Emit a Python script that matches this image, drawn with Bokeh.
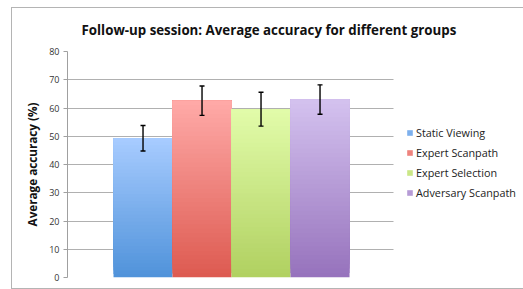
from bokeh.plotting import figure
from bokeh.models import (ColumnDataSource, Whisker, TeeHead, Legend, LegendItem, SingleIntervalTicker,
                          BoxAnnotation, Range1d)
from bokeh.layouts import column
from bokeh.embed import file_html
from bokeh.resources import INLINE

# ---- data ----
groups = ["Static Viewing", "Expert Scanpath", "Expert Selection", "Adversary Scanpath"]
accuracy = [49.3, 62.6, 59.6, 63.0]
err = [4.5, 5.2, 6.0, 5.2]
title_text = "Follow-up session: Average accuracy for different groups"
y_label = "Average accuracy (%)"

# gradient colours (bottom, top) per group
col_bottom = ["#4f92da", "#dd5a50", "#b0d060", "#9672bc"]
col_top = ["#a8ccff", "#ffaaa8", "#e2fcaa", "#d4c2ef"]

def hex2rgb(h):
    h = h.lstrip("#")
    return tuple(int(h[i:i + 2], 16) for i in (0, 2, 4))

def mix(a, b, t):
    ra, rb = hex2rgb(a), hex2rgb(b)
    return "#%02x%02x%02x" % tuple(int(round(ra[k] + (rb[k] - ra[k]) * t)) for k in range(3))

xpos = list(range(len(groups)))  # group index along x

# vertical colour gradient: overlapping slices, each from its own start to the bar's top
N = 40
xs, bots, tops, cols, names = [], [], [], [], []
mid_index = []
for xi, g, v, cb, ct in zip(xpos, groups, accuracy, col_bottom, col_top):
    for i in range(N):
        xs.append(xi)
        names.append(g)
        bots.append(v * i / N)
        tops.append(v)
        cols.append(mix(cb, ct, (i + 0.5) / N))
        if i == N // 2:
            mid_index.append(len(xs) - 1)
seg = ColumnDataSource(dict(x=xs, bottom=bots, top=tops, color=cols, group=names))

FONT = "Open Sans"

# frame spans to the right edge; the area right of the plot region is masked for the legend
X0, X1, XCUT = -1.28, 6.635, 4.245
p = figure(width=522, height=280, x_range=Range1d(X0, X1), y_range=(0, 80),
           output_backend="svg", toolbar_location=None,
           min_border_left=55, min_border_right=0, min_border_top=39, min_border_bottom=11)

r = p.vbar(x="x", bottom="bottom", top="top", width=1.0, fill_color="color",
           line_color=None, source=seg)

mask = BoxAnnotation(left=XCUT, fill_color="white", fill_alpha=1.0, line_color=None)
p.add_layout(mask)

es = ColumnDataSource(dict(x=xpos, upper=[a + e for a, e in zip(accuracy, err)],
                           lower=[a - e for a, e in zip(accuracy, err)]))
w = Whisker(base="x", upper="upper", lower="lower", source=es, line_color="black", line_width=1.4,
            upper_head=TeeHead(size=5, line_color="black", line_width=1.4),
            lower_head=TeeHead(size=5, line_color="black", line_width=1.4), level="overlay")
p.add_layout(w)

# title
p.title.text = title_text
p.title.align = "left"
p.title.offset = 14
p.title.text_font = FONT
p.title.text_font_size = "13.3px"
p.title.text_font_style = "bold"
p.title.text_color = "#111111"
p.title.standoff = 23
p.title.vertical_align = "middle"

# axes
p.xaxis.visible = False

p.yaxis.ticker = SingleIntervalTicker(interval=10)
p.yaxis.axis_line_color = "#a0a0a0"
p.yaxis.major_tick_line_color = "#a0a0a0"
p.yaxis.major_tick_out = 4
p.yaxis.major_tick_in = 0
p.yaxis.minor_tick_line_color = None
p.yaxis.major_label_text_font = FONT
p.yaxis.major_label_text_font_size = "9px"
p.yaxis.major_label_text_color = "#333333"
p.yaxis.major_label_standoff = 4
p.yaxis.axis_label = y_label
p.yaxis.axis_label_text_font = FONT
p.yaxis.axis_label_text_font_size = "11.7px"
p.yaxis.axis_label_text_font_style = "bold"
p.yaxis.axis_label_text_color = "#111111"
p.yaxis.axis_label_standoff = 6

p.xgrid.grid_line_color = None
p.ygrid.grid_line_color = "#b0b0b0"
p.ygrid.grid_line_width = 1
p.outline_line_color = None

items = [LegendItem(label=g, renderers=[r], index=k) for g, k in zip(groups, mid_index)]
legend = Legend(items=items, location=(339, 77), glyph_width=7, glyph_height=7,
                label_text_font=FONT, label_text_font_size="10.8px", label_text_color="#222222",
                label_standoff=3, spacing=5, padding=4, margin=0,
                border_line_color=None, background_fill_alpha=0)
p.add_layout(legend)

layout = column(p, styles={"border-top": "1px solid #b4b4b4", "border-left": "1px solid #b4b4b4",
                           "border-bottom": "1px solid #b4b4b4",
                           "margin-left": "11px", "margin-top": "7px"})

open("out.html", "w").write(file_html(layout, INLINE))
